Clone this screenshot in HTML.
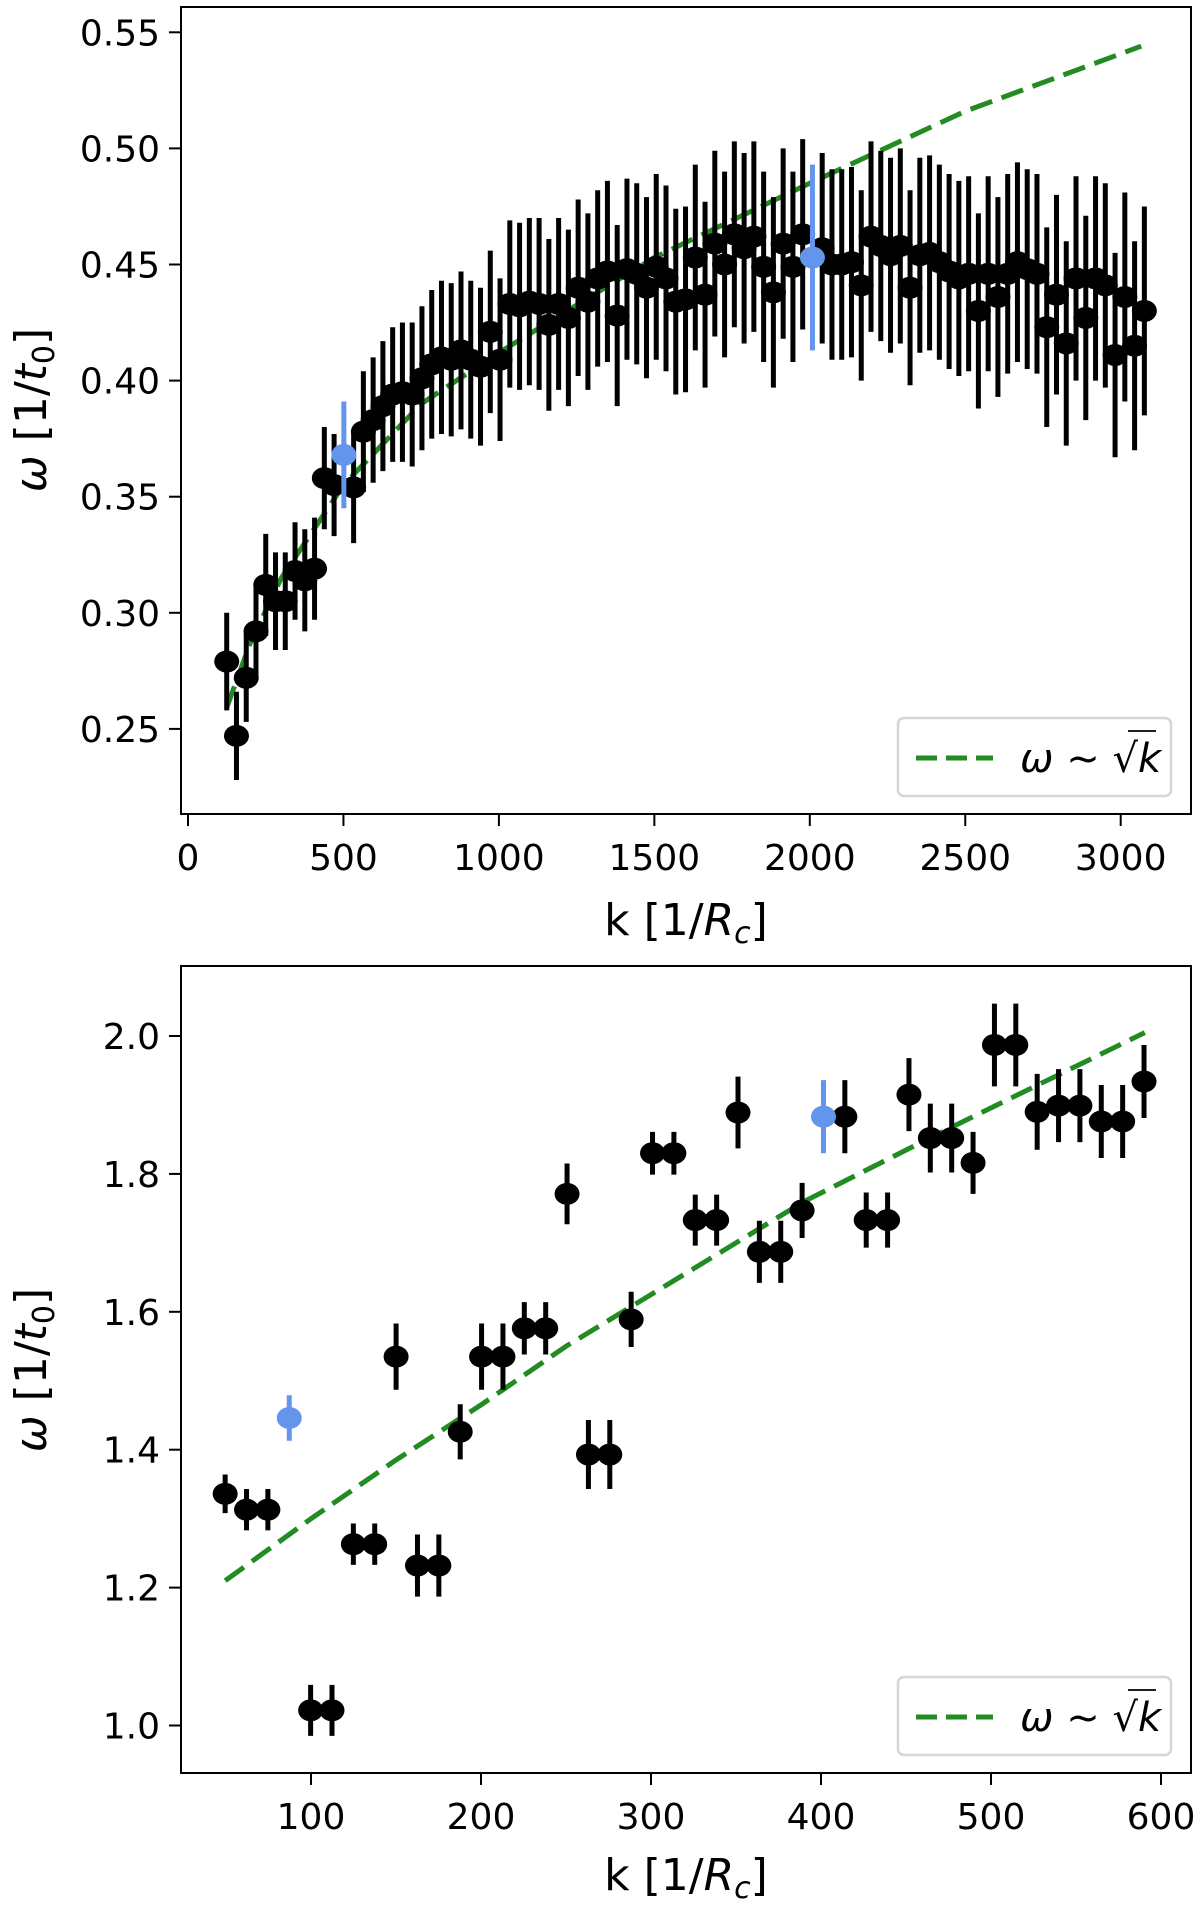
<!DOCTYPE html>
<html><head><meta charset="utf-8"><style>
html,body{margin:0;padding:0;background:#fff}
svg{display:block}
text{font-family:"DejaVu Sans","Liberation Sans",sans-serif;fill:#000}
</style></head><body>
<svg id="fig" width="1200" height="1905" viewBox="0 0 1200 1905" xmlns="http://www.w3.org/2000/svg">
<g id="top"></g>
<g id="bot"></g>
</svg>
<script>
// ---- Top panel data ----
const topK0 = 124.5, topDK = 31.4;
const topW = [0.279,0.247,0.272,0.292,0.312,0.305,0.305,0.318,0.314,0.319,0.358,0.355,0.368,0.354,0.378,0.383,0.389,0.394,0.395,0.394,0.401,0.407,0.410,0.409,0.413,0.409,0.406,0.421,0.409,0.433,0.432,0.434,0.433,0.424,0.433,0.427,0.440,0.434,0.444,0.447,0.428,0.448,0.446,0.440,0.449,0.444,0.434,0.435,0.453,0.437,0.459,0.450,0.463,0.457,0.462,0.449,0.438,0.459,0.449,0.463,0.453,0.457,0.450,0.450,0.451,0.441,0.462,0.458,0.454,0.458,0.440,0.454,0.455,0.451,0.447,0.444,0.446,0.430,0.446,0.436,0.446,0.451,0.448,0.446,0.423,0.437,0.416,0.444,0.427,0.444,0.441,0.411,0.436,0.415,0.430];
const topErr = [0.021,0.019,0.019,0.020,0.022,0.021,0.021,0.021,0.022,0.022,0.022,0.022,0.023,0.024,0.026,0.027,0.028,0.029,0.030,0.031,0.031,0.032,0.033,0.033,0.034,0.034,0.034,0.035,0.035,0.036,0.036,0.036,0.037,0.037,0.037,0.038,0.038,0.038,0.038,0.039,0.039,0.039,0.039,0.039,0.040,0.040,0.040,0.040,0.040,0.040,0.040,0.040,0.040,0.041,0.041,0.041,0.041,0.041,0.041,0.041,0.040,0.041,0.041,0.041,0.041,0.041,0.041,0.041,0.042,0.042,0.042,0.042,0.042,0.042,0.042,0.042,0.042,0.042,0.042,0.043,0.043,0.043,0.043,0.043,0.043,0.043,0.044,0.044,0.044,0.044,0.044,0.044,0.045,0.045,0.045];
const topBlue = [12, 60];
const topLineK = [124,200,300,500,750,1000,1500,2000,2500,3066];
const topLineW = [0.259,0.287,0.315,0.355,0.390,0.412,0.453,0.485,0.516,0.544];
const topXTicks = [0,500,1000,1500,2000,2500,3000];
const topYTicks = [0.25,0.30,0.35,0.40,0.45,0.50,0.55];
const topYLabels = ["0.25","0.30","0.35","0.40","0.45","0.50","0.55"];

// ---- Bottom panel data ----
const botK0 = 49.5, botDK = 12.57;
const botW = [1.336,1.313,1.313,1.446,1.022,1.022,1.263,1.263,1.535,1.232,1.232,1.426,1.535,1.535,1.576,1.576,1.771,1.393,1.393,1.589,1.830,1.830,1.733,1.733,1.889,1.687,1.687,1.747,1.883,1.883,1.733,1.733,1.915,1.852,1.852,1.816,1.987,1.987,1.890,1.899,1.899,1.876,1.876,1.934];
const botErr = [0.028,0.030,0.030,0.033,0.037,0.037,0.030,0.030,0.048,0.045,0.045,0.040,0.048,0.048,0.038,0.038,0.044,0.050,0.050,0.040,0.031,0.031,0.037,0.037,0.052,0.045,0.045,0.040,0.053,0.053,0.040,0.040,0.053,0.050,0.050,0.045,0.060,0.060,0.055,0.053,0.053,0.053,0.053,0.053];
const botBlue = [3, 28];
const botLineK = [49.5,100,150,200,250,300,390,477,590.5];
const botLineW = [1.21,1.30,1.385,1.465,1.55,1.625,1.76,1.868,2.005];
const botXTicks = [100,200,300,400,500,600];
const botYTicks = [1.0,1.2,1.4,1.6,1.8,2.0];
const botYLabels = ["1.0","1.2","1.4","1.6","1.8","2.0"];

const NS = "http://www.w3.org/2000/svg";
function mk(parent, tag, attrs, txt){
  const e = document.createElementNS(NS, tag);
  for (const k in attrs) e.setAttribute(k, attrs[k]);
  if (txt !== undefined) e.textContent = txt;
  parent.appendChild(e);
  return e;
}
const BLACK = "#000", BLUE = "#6495ED", GREEN = "#228B22";

function panel(g, cfg){
  const {X, Y, box, K0, DK, W, E, blue, lineK, lineW, xt, yt, yl, xlabBase, legY, ylabCy} = cfg;
  // green model line (beneath points)
  let d = "";
  for (let i = 0; i < lineK.length; i++) d += (i ? "L" : "M") + X(lineK[i]).toFixed(1) + "," + Y(lineW[i]).toFixed(1);
  const ln = mk(g, "path", {d: d, fill: "none", stroke: GREEN, "stroke-width": 5, "stroke-dasharray": "23 10"});
  
  
  // points: black first, blue last
  const order = [];
  for (let i = 0; i < W.length; i++) if (blue.indexOf(i) < 0) order.push(i);
  for (let j = 0; j < blue.length; j++) order.push(blue[j]);
  for (const i of order){
    const isBlue = blue.indexOf(i) >= 0;
    const k = K0 + DK * i, x = X(k);
    const col = isBlue ? BLUE : BLACK;
    const gp = mk(g, "g", {});
    
    
    mk(gp, "line", {x1: x, x2: x, y1: Y(W[i] + E[i]), y2: Y(W[i] - E[i]), stroke: col, "stroke-width": 5});
    mk(gp, "ellipse", {cx: x, cy: Y(W[i]), rx: 12.5, ry: 11, fill: col});
  }
  const fr = mk(g, "rect", {x: box[0], y: box[1], width: box[2]-box[0], height: box[3]-box[1], fill: "none", stroke: "#000", "stroke-width": 2});
  
  
  for (let i = 0; i < xt.length; i++){
    const x = X(xt[i]);
    mk(g, "line", {x1: x, x2: x, y1: box[3], y2: box[3] + 12, stroke: "#000", "stroke-width": 2});
    const t = mk(g, "text", {x: x, y: box[3] + 56, "font-size": 36, "text-anchor": "middle"}, String(xt[i]));
    
    
  }
  for (let i = 0; i < yt.length; i++){
    const y = Y(yt[i]);
    mk(g, "line", {x1: box[0] - 12, x2: box[0], y1: y, y2: y, stroke: "#000", "stroke-width": 2});
    const t = mk(g, "text", {x: box[0] - 21, y: y + 13, "font-size": 36, "text-anchor": "end"}, yl[i]);
    
    
  }
  const xl = mk(g, "text", {x: (box[0]+box[2])/2, y: xlabBase, "font-size": 44, "text-anchor": "middle"});
  
  
  xl.innerHTML = 'k [1/<tspan font-style="italic">R</tspan><tspan font-style="italic" font-size="30" dy="8">c</tspan><tspan dy="-8">]</tspan>';
  const yla = mk(g, "text", {x: 0, y: 0, "font-size": 44, "text-anchor": "middle", transform: "translate(46," + ylabCy + ") rotate(-90)"});
  
  
  yla.innerHTML = '<tspan font-style="italic">ω</tspan> [1/<tspan font-style="italic">t</tspan><tspan font-size="30" dy="8">0</tspan><tspan dy="-8">]</tspan>';
  const lg = mk(g, "g", {});
  
  
  mk(lg, "rect", {x: 898, y: legY, width: 273, height: 78, rx: 6, fill: "#fff", "fill-opacity": 0.8, stroke: "#d6d6d6", "stroke-width": 2.5});
  mk(lg, "line", {x1: 916, x2: 993, y1: legY + 40, y2: legY + 40, stroke: GREEN, "stroke-width": 5, "stroke-dasharray": "21 9"});
  const lt = mk(lg, "text", {x: 1020, y: legY + 54, "font-size": 40});
  
  
  lt.innerHTML = '<tspan font-style="italic">ω</tspan> ~ √<tspan font-style="italic">k</tspan>';
  mk(lg, "line", {x1: 1128, x2: 1156, y1: legY + 13, y2: legY + 13, stroke: "#000", "stroke-width": 1.8});
}

panel(document.getElementById("top"), {
  X: k => 188 + 0.3109 * k,
  Y: w => 32.3 + (0.55 - w) * 2322,
  box: [181, 7, 1191, 814],
  K0: topK0, DK: topDK, W: topW, E: topErr, blue: topBlue,
  lineK: topLineK, lineW: topLineW, xt: topXTicks, yt: topYTicks, yl: topYLabels,
  xlabBase: 935, legY: 718, ylabCy: 410
});
panel(document.getElementById("bot"), {
  X: k => 311 + (k - 100) * 1.7,
  Y: w => 1036 + (2.0 - w) * 689.5,
  box: [181, 966, 1191, 1773],
  K0: botK0, DK: botDK, W: botW, E: botErr, blue: botBlue,
  lineK: botLineK, lineW: botLineW, xt: botXTicks, yt: botYTicks, yl: botYLabels,
  xlabBase: 1890, legY: 1677, ylabCy: 1370
});
</script>
</body></html>
